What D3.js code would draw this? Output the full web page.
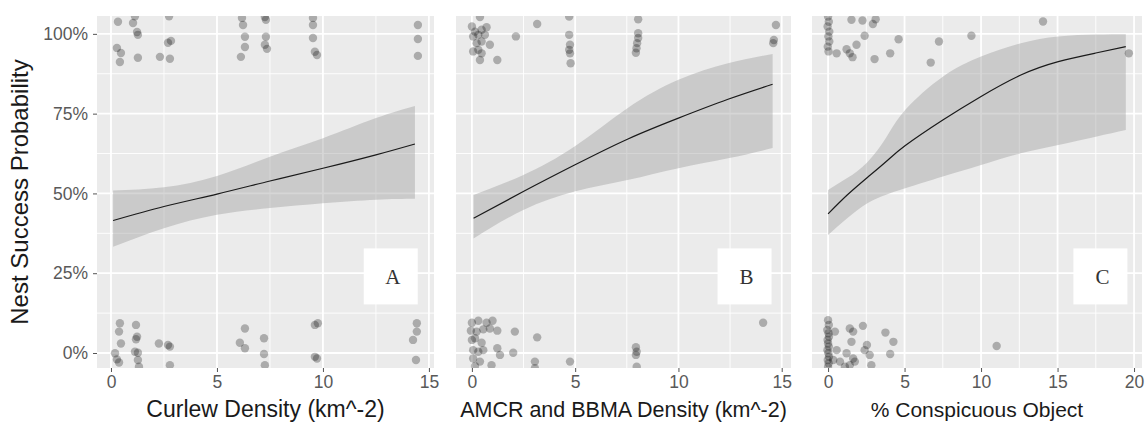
<!DOCTYPE html>
<html>
<head>
<meta charset="utf-8">
<script src="https://cdn.jsdelivr.net/npm/d3@7"></script>
<style>
  body { margin: 0; background: #fff; }
  text { font-family: "Liberation Sans", Arial, sans-serif; }
</style>
</head>
<body>
<div id="chart"></div>
<script>
// Shared y axis (percent)
const yTicks = [0, 25, 50, 75, 100];
const yMinor = [12.5, 37.5, 62.5, 87.5];

// Panel A: curlew density -- fitted line and 95% band
const curlewX   = [0.1, 2.5, 5, 7.5, 10, 12.5, 14.34];
const curlewFit = [41.5, 45.9, 49.8, 53.9, 57.9, 62.1, 65.5];
const curlewHi  = [50.9, 51.9, 55.5, 61.5, 67.3, 73.6, 77.4];
const curlewLo  = [33.3, 39.1, 43.3, 45.4, 46.9, 48.0, 48.3];
// jittered nests [x, success %]
const curlewPts = [
  [0.33,103.8],[0.28,95.6],[0.42,91.2],[0.47,94.0],[1.04,103.4],[1.13,105.5],[1.23,100.6],[1.27,99.7],
  [1.27,92.5],[2.31,92.8],[2.78,92.2],[2.69,97.2],[2.83,97.8],[2.74,105.5],[6.18,105],[6.23,102.8],
  [6.32,99.1],[6.32,95.9],[6.13,92.8],[7.26,105.3],[7.31,104.4],[7.31,99.1],[7.26,96.6],[7.36,95.3],
  [9.53,105],[9.53,102.8],[9.53,98.7],[9.62,94.4],[9.72,93.4],[14.48,102.8],[14.48,98.4],[14.48,93.1],
  [0.42,9.3],[0.38,6.7],[0.47,3.0],[0.19,-0.1],[0.28,-2.0],[0.38,-3.0],[1.18,8.8],[1.23,5.1],
  [1.18,4.3],[1.13,0.4],[1.27,0.1],[1.27,-2.2],[1.32,-4.3],[2.26,3.0],[2.69,2.5],[2.78,2.0],
  [2.78,-3.8],[6.32,7.7],[6.08,3.2],[6.32,1.5],[7.22,4.6],[7.22,-0.3],[7.26,-3.8],[9.62,8.8],
  [9.76,9.3],[9.62,-1.2],[9.72,-1.7],[14.43,9.3],[14.43,6.7],[14.25,4.1],[14.39,-2.2]
];

// Panel B: AMCR and BBMA density
const crowX   = [0.08, 2.49, 4.97, 7.53, 10.0, 12.4, 14.56];
const crowFit = [42.2, 50.6, 58.9, 67.0, 73.6, 79.5, 84.2];
const crowHi  = [49.5, 55.8, 64.7, 76.7, 85.6, 90.8, 93.7];
const crowLo  = [35.9, 44.8, 50.6, 54.2, 57.9, 61.0, 64.2];
const crowPts = [
  [0.39,105.3],[0.0,102.3],[0.15,100.7],[0.47,101.3],[0.71,102.1],[0.06,99.2],[0.31,99.7],[0.63,99.7],
  [0.23,97.1],[0.47,97.6],[0.87,96.6],[0.06,94.5],[0.31,95.0],[0.47,93.9],[0.39,91.8],[1.23,91.8],
  [2.13,99.2],[3.16,103.1],[4.71,105.4],[4.71,99.7],[4.75,96.6],[4.71,95.0],[4.75,93.9],[4.78,90.8],
  [8.05,104.6],[8.05,100.2],[8.05,98.7],[8.0,97.1],[7.97,95.5],[7.94,94.1],[14.72,102.8],[14.62,98.1],
  [14.59,97.1],
  [0.0,9.5],[0.31,10.1],[0.71,9.5],[1.0,10.1],[-0.05,7.0],[0.23,6.7],[0.55,7.4],[0.87,7.7],
  [1.23,7.0],[2.08,6.7],[3.16,4.9],[0.0,4.1],[0.15,4.6],[0.47,3.2],[1.23,1.5],[2.0,0.1],
  [0.06,0.9],[0.31,0.4],[0.55,0.9],[1.36,-0.6],[0.06,-1.7],[0.39,-2.7],[0.15,-4.1],[0.95,-3.8],
  [3.05,-2.7],[3.05,-4.8],[4.75,-2.7],[7.94,1.8],[7.98,0.4],[7.94,-0.6],[7.98,-4.3],[14.1,9.5]
];

// Panel C: % conspicuous object
const objX   = [0, 1.25, 2.57, 3.8, 5.05, 7.5, 10, 12.6, 15.05, 17.5, 19.46];
const objFit = [43.6, 49.5, 55.0, 60.0, 65.0, 73.0, 80.4, 87.1, 91.3, 94.0, 96.0];
const objHi  = [51.1, 54.8, 59.8, 67.5, 76.2, 86.6, 92.9, 97.1, 99.2, 99.8, 99.9];
const objLo  = [37.0, 42.2, 46.9, 49.6, 51.6, 55.3, 58.9, 62.6, 65.2, 67.8, 69.9];
const objPts = [
  [0.0,105.4],[0.05,103.8],[-0.03,102.3],[0.08,100.7],[0.02,99.2],[0.08,97.6],[-0.02,96.0],[0.03,94.5],
  [0.56,93.9],[1.53,104.4],[2.25,104.2],[3.11,104.6],[2.93,103.1],[2.39,99.4],[1.86,96.6],[1.21,95.2],
  [1.42,93.9],[1.6,92.7],[3.04,92.1],[4.06,93.9],[4.61,98.3],[6.71,91.0],[7.25,97.6],[9.37,99.4],
  [14.05,103.9],[19.66,93.9],
  [0.0,10.3],[0.05,8.8],[-0.05,7.2],[0.03,6.2],[0.06,5.1],[-0.03,4.1],[0.0,3.0],[0.05,2.0],
  [-0.04,0.9],[0.02,-0.1],[0.06,-1.2],[-0.02,-2.2],[0.04,-3.2],[0.0,-4.3],
  [0.45,6.7],[0.56,0.9],[0.34,-2.2],[0.78,-2.7],[1.21,-0.1],[1.42,7.7],[1.64,6.7],[1.53,3.5],
  [2.28,8.5],[1.64,-1.7],[1.42,-3.8],[1.1,-4.3],[1.75,-2.7],[2.39,0.9],[2.54,2.5],[2.72,-0.6],
  [2.83,-3.8],[3.75,6.4],[4.27,3.5],[4.06,-0.3],[11.02,2.2]
];

const zip = (xs, fit, hi, lo) => xs.map((x, i) => ({ x, fit: fit[i], hi: hi[i], lo: lo[i] }));

const panels = [
  { letter: "A", left: 97,  right: 434,  xDomain: [-0.66, 15.24], xTicks: [0, 5, 10, 15], xMinor: [2.5, 7.5, 12.5],
    title: "Curlew Density (km^-2)", titleSize: 23, curve: zip(curlewX, curlewFit, curlewHi, curlewLo), pts: curlewPts, labelX: 13.2 },
  { letter: "B", left: 456, right: 791,  xDomain: [-0.77, 15.45], xTicks: [0, 5, 10, 15], xMinor: [2.5, 7.5, 12.5],
    title: "AMCR and BBMA Density (km^-2)", titleSize: 21.5, curve: zip(crowX, crowFit, crowHi, crowLo), pts: crowPts, labelX: 13.2 },
  { letter: "C", left: 812, right: 1142, xDomain: [-1.05, 20.52], xTicks: [0, 5, 10, 15, 20], xMinor: [2.5, 7.5, 12.5, 17.5],
    title: "% Conspicuous Object", titleSize: 21, curve: zip(objX, objFit, objHi, objLo), pts: objPts, labelX: 17.8 }
];
const labelY = 24;

const W = 1146, H = 425;
const plotTop = 16, plotBottom = 368;

const svg = d3.select("#chart").append("svg")
  .attr("width", W)
  .attr("height", H);
svg.append("rect").attr("width", W).attr("height", H).attr("fill", "#fff");

const yScale = d3.scaleLinear().domain([-4.7, 105.6]).range([plotBottom, plotTop]);

panels.forEach((p, i) => {
  const x = d3.scaleLinear().domain(p.xDomain).range([p.left, p.right]);
  const g = svg.append("g");

  g.append("clipPath").attr("id", "clip" + i)
    .append("rect").attr("x", p.left).attr("y", plotTop)
    .attr("width", p.right - p.left).attr("height", plotBottom - plotTop);

  g.append("rect")
    .attr("x", p.left).attr("y", plotTop)
    .attr("width", p.right - p.left).attr("height", plotBottom - plotTop)
    .attr("fill", "#ebebeb");

  // grid: minor then major
  g.selectAll(".vmin").data(p.xMinor).join("line")
    .attr("x1", d => x(d)).attr("x2", d => x(d)).attr("y1", plotTop).attr("y2", plotBottom)
    .attr("stroke", "#fff").attr("stroke-width", 0.9);
  g.selectAll(".hmin").data(yMinor).join("line")
    .attr("x1", p.left).attr("x2", p.right).attr("y1", d => yScale(d)).attr("y2", d => yScale(d))
    .attr("stroke", "#fff").attr("stroke-width", 0.9);
  g.selectAll(".vmaj").data(p.xTicks).join("line")
    .attr("x1", d => x(d)).attr("x2", d => x(d)).attr("y1", plotTop).attr("y2", plotBottom)
    .attr("stroke", "#fff").attr("stroke-width", 1.8);
  g.selectAll(".hmaj").data(yTicks).join("line")
    .attr("x1", p.left).attr("x2", p.right).attr("y1", d => yScale(d)).attr("y2", d => yScale(d))
    .attr("stroke", "#fff").attr("stroke-width", 1.8);

  const inner = g.append("g").attr("clip-path", `url(#clip${i})`);

  // confidence band and fitted line
  inner.append("path").datum(p.curve)
    .attr("d", d3.area().x(d => x(d.x)).y0(d => yScale(d.lo)).y1(d => yScale(d.hi)).curve(d3.curveNatural))
    .attr("fill", "#999").attr("fill-opacity", 0.4);
  inner.append("path").datum(p.curve)
    .attr("d", d3.line().x(d => x(d.x)).y(d => yScale(d.fit)).curve(d3.curveNatural))
    .attr("fill", "none").attr("stroke", "#1a1a1a").attr("stroke-width", 1.2);

  // nests
  inner.selectAll("circle").data(p.pts).join("circle")
    .attr("cx", d => x(d[0])).attr("cy", d => yScale(d[1])).attr("r", 4.2)
    .attr("fill", "#000").attr("fill-opacity", 0.27);

  // panel letter
  const lx = x(p.labelX), ly = yScale(labelY);
  g.append("rect").attr("x", lx - 27).attr("y", ly - 28).attr("width", 54).attr("height", 56).attr("fill", "#fff");
  g.append("text").attr("x", lx + 2).attr("y", ly + 8).attr("text-anchor", "middle")
    .style("font-family", "'Liberation Serif', 'Times New Roman', serif").attr("font-size", 21)
    .attr("fill", "#333").text(p.letter);

  // x axis
  const ax = g.append("g").attr("transform", `translate(0,${plotBottom})`)
    .call(d3.axisBottom(x).tickValues(p.xTicks).tickSize(4).tickPadding(4));
  ax.select(".domain").remove();
  ax.selectAll("line").attr("stroke", "#555");
  ax.selectAll("text").attr("font-size", 17.5).attr("fill", "#595959")
    .style("font-family", "'Liberation Sans', Arial, sans-serif");

  g.append("text")
    .attr("x", (p.left + p.right) / 2).attr("y", 417)
    .attr("text-anchor", "middle").attr("font-size", p.titleSize).attr("fill", "#1a1a1a")
    .text(p.title);

  if (i === 0) {
    const ay = g.append("g").attr("transform", `translate(${p.left},0)`)
      .call(d3.axisLeft(yScale).tickValues(yTicks).tickFormat(d => d + "%").tickSize(4).tickPadding(5));
    ay.select(".domain").remove();
    ay.selectAll("line").attr("stroke", "#555");
    ay.selectAll("text").attr("font-size", 17.5).attr("fill", "#595959")
      .style("font-family", "'Liberation Sans', Arial, sans-serif");
  }
});

svg.append("text")
  .attr("transform", `translate(28,${(plotTop + plotBottom) / 2}) rotate(-90)`)
  .attr("text-anchor", "middle").attr("font-size", 24).attr("fill", "#1a1a1a")
  .text("Nest Success Probability");
</script>
</body>
</html>
